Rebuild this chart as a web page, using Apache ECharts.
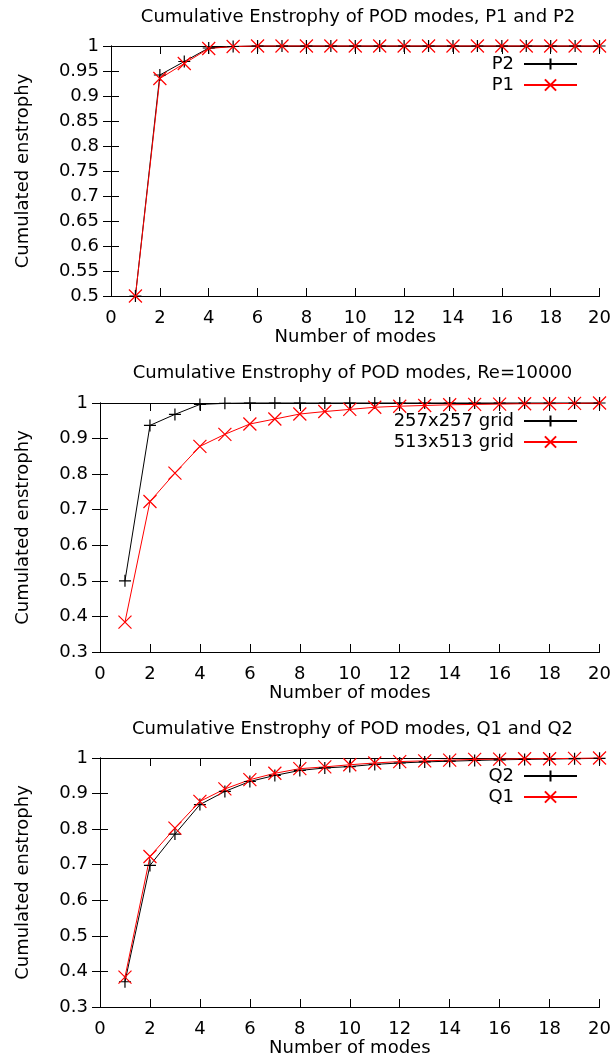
<!DOCTYPE html>
<html>
<head>
<meta charset="utf-8">
<script src="https://cdn.jsdelivr.net/npm/echarts@6/dist/echarts.min.js"></script>
<style>
  html, body { margin: 0; padding: 0; background: #fff; }
  #chart { width: 614px; height: 1061px; }
</style>
</head>
<body>
<div id="chart"></div>
<script>
// number of POD modes (x values)
const modes = [1, 2, 3, 4, 5, 6, 7, 8, 9, 10, 11, 12, 13, 14, 15, 16, 17, 18, 19, 20];

// plot 1
const p2 = [0.5, 0.942, 0.969, 0.996, 0.999, 1, 1, 1, 1, 1, 1, 1, 1, 1, 1, 1, 1, 1, 1, 1];
const p1 = [0.5, 0.935, 0.965, 0.995, 0.999, 1, 1, 1, 1, 1, 1, 1, 1, 1, 1, 1, 1, 1, 1, 1];

// plot 2
const grid257 = [0.5, 0.937, 0.968, 0.996, 0.999, 1, 1, 1, 1, 1, 1, 1, 1, 1, 1, 1, 1, 1, 1, 1];
const grid513 = [0.384, 0.723, 0.803, 0.878, 0.912, 0.941, 0.955, 0.969, 0.976, 0.982,
  0.988, 0.991, 0.993, 0.995, 0.996, 0.997, 0.998, 0.998, 0.999, 1];

// plot 3
const q2 = [0.371, 0.698, 0.786, 0.869, 0.906, 0.934, 0.951, 0.965, 0.972, 0.976,
  0.982, 0.986, 0.989, 0.991, 0.993, 0.995, 0.996, 0.997, 0.998, 0.999];
const q1 = [0.384, 0.723, 0.803, 0.878, 0.913, 0.939, 0.957, 0.970, 0.975, 0.981,
  0.986, 0.99, 0.992, 0.994, 0.996, 0.997, 0.998, 0.998, 0.999, 1];

const titles = [
  'Cumulative Enstrophy of POD modes, P1 and P2',
  'Cumulative Enstrophy of POD modes, Re=10000',
  'Cumulative Enstrophy of POD modes, Q1 and Q2'
];

const FONT = 'DejaVu Sans';
const FS = 18;
const PLUS = 'path://M0,5L10,5M5,0L5,10';
const CROSS = 'path://M0,0L10,10M10,0L0,10';

// plot boxes in pixels (gnuplot frames)
const boxes = [
  { left: 111, top: 46, height: 250, ymin: 0.5, yint: 0.05, nameGap: 79, titleTop: 8, legendTop: 55 },
  { left: 100, top: 403, height: 249, ymin: 0.3, yint: 0.1, nameGap: 68, titleTop: 364, legendTop: 412 },
  { left: 100, top: 758, height: 249, ymin: 0.3, yint: 0.1, nameGap: 68, titleTop: 720, legendTop: 767 }
];

const txt = { fontFamily: FONT, fontSize: FS, color: '#000' };

function pairs(vals) {
  return modes.map((m, i) => [m, vals[i]]);
}

function line(name, vals, color, symbol, size, idx) {
  return {
    name: name,
    type: 'line',
    xAxisIndex: idx,
    yAxisIndex: idx,
    data: pairs(vals),
    symbol: symbol,
    symbolSize: size,
    showAllSymbol: true,
    clip: false,
    color: color,
    lineStyle: { color: color, width: 1 },
    itemStyle: { color: color, borderColor: color, borderWidth: 1.2 },
    emphasis: { disabled: true }
  };
}

function axisX(i, pos) {
  const main = pos === 'bottom';
  return {
    type: 'value', gridIndex: i, position: pos,
    min: 0, max: 20, interval: 2,
    name: main ? 'Number of modes' : '',
    nameLocation: 'middle', nameGap: 31,
    nameTextStyle: txt,
    axisLine: { show: true, lineStyle: { color: '#000', width: 1 } },
    axisTick: { show: true, inside: true, length: 8, lineStyle: { color: '#000' } },
    axisLabel: { show: main, margin: 13, ...txt },
    splitLine: { show: false }
  };
}

function axisY(i, pos) {
  const main = pos === 'left';
  const b = boxes[i];
  return {
    type: 'value', gridIndex: i, position: pos,
    min: b.ymin, max: 1, interval: b.yint,
    name: main ? 'Cumulated enstrophy' : '',
    nameLocation: 'middle', nameGap: b.nameGap,
    nameTextStyle: txt,
    axisLine: { show: true, lineStyle: { color: '#000', width: 1 } },
    axisTick: { show: true, inside: true, length: 8, lineStyle: { color: '#000' } },
    axisLabel: { show: main, margin: 12, ...txt },
    splitLine: { show: false }
  };
}

const legendNames = [['P2', 'P1'], ['257x257 grid', '513x513 grid'], ['Q2', 'Q1']];

const option = {
  animation: false,
  backgroundColor: '#fff',
  title: boxes.map((b, i) => ({
    text: titles[i],
    left: (b.left + 601) / 2 + 2,
    top: b.titleTop,
    textAlign: 'center',
    padding: 0,
    textStyle: { ...txt, fontWeight: 'normal' }
  })),
  legend: boxes.map((b, i) => ({
    data: legendNames[i],
    orient: 'vertical',
    align: 'right',
    right: 36,
    top: b.legendTop,
    padding: 0,
    itemWidth: 53,
    itemHeight: 14,
    itemGap: 3,
    selectedMode: false,
    textStyle: { ...txt, padding: [0, 5, 0, 0] }
  })),
  grid: boxes.map(b => ({ left: b.left, top: b.top, height: b.height, right: 13 })),
  xAxis: [0, 1, 2].map(i => axisX(i, 'bottom')).concat([0, 1, 2].map(i => axisX(i, 'top'))),
  yAxis: [0, 1, 2].map(i => axisY(i, 'left')).concat([0, 1, 2].map(i => axisY(i, 'right'))),
  series: [
    line('P2', p2, '#000', PLUS, 12, 0),
    line('P1', p1, '#ff0000', CROSS, 13, 0),
    line('257x257 grid', grid257, '#000', PLUS, 12, 1),
    line('513x513 grid', grid513, '#ff0000', CROSS, 13, 1),
    line('Q2', q2, '#000', PLUS, 12, 2),
    line('Q1', q1, '#ff0000', CROSS, 13, 2)
  ]
};

const chart = echarts.init(document.getElementById('chart'));
chart.setOption(option);
</script>
</body>
</html>
